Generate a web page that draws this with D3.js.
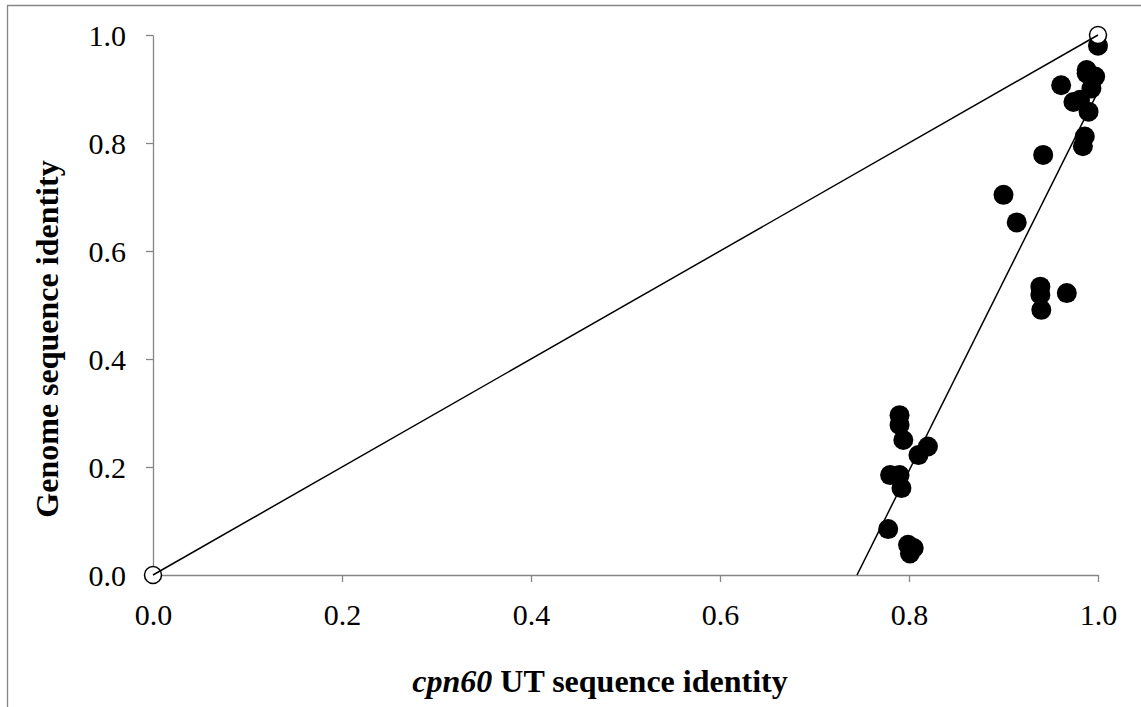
<!DOCTYPE html>
<html>
<head>
<meta charset="utf-8">
<script src="https://cdn.jsdelivr.net/npm/d3@7"></script>
<style>
  html, body { margin: 0; padding: 0; background: #fff; }
  svg { display: block; }
  text { font-family: "Liberation Serif", "Times New Roman", serif; }
</style>
</head>
<body>
<svg id="chart" width="1141" height="707"></svg>
<script>
// ---- data ----
const cpnIdentity = [1.000, 0.988, 0.988, 0.997, 0.993, 0.961, 0.974, 0.981, 0.990, 0.986, 0.984,
  0.942, 0.900, 0.914, 0.939, 0.939, 0.940, 0.967,
  0.790, 0.790, 0.794, 0.820, 0.810, 0.780, 0.790, 0.792, 0.778, 0.799, 0.801, 0.805];
const genomeIdentity = [0.980, 0.935, 0.929, 0.923, 0.901, 0.907, 0.876, 0.880, 0.858, 0.812, 0.794,
  0.778, 0.704, 0.653, 0.534, 0.519, 0.491, 0.522,
  0.296, 0.278, 0.250, 0.238, 0.222, 0.185, 0.185, 0.161, 0.085, 0.056, 0.040, 0.050];
const identityX = [0, 1];
const identityY = [0, 1];
const trendX = [0.745, 1.0];
const trendY = [0.0, 0.895];
const xTicks = [0, 0.2, 0.4, 0.6, 0.8, 1.0];
const yTicks = [0, 0.2, 0.4, 0.6, 0.8, 1.0];

const svg = d3.select("#chart");
const axisColor = "#868686";

// chart-area border (left and top edges visible)
svg.append("path")
  .attr("d", "M7.5,707 L7.5,5.5 L1141,5.5")
  .attr("fill", "none").attr("stroke", axisColor).attr("stroke-width", 1.3);

const x = d3.scaleLinear().domain([0, 1]).range([153, 1098]);
const y = d3.scaleLinear().domain([0, 1]).range([575, 35]);

// axes
const xAxis = svg.append("g").attr("transform", "translate(0,575)")
  .call(d3.axisBottom(x).tickValues(xTicks).tickFormat(d3.format(".1f")).tickSize(7).tickSizeOuter(0));
xAxis.selectAll("text").attr("y", 50).attr("dy", 0)
  .attr("font-size", 30).attr("fill", "#000").style("font-family", "'Liberation Serif', serif");

const yAxis = svg.append("g").attr("transform", "translate(153,0)")
  .call(d3.axisLeft(y).tickValues(yTicks).tickFormat(d3.format(".1f")).tickSize(7).tickSizeOuter(0));
yAxis.selectAll("text").attr("x", -27).attr("dy", "0.34em")
  .attr("font-size", 30).attr("fill", "#000").style("font-family", "'Liberation Serif', serif");

[xAxis, yAxis].forEach(g => {
  g.select(".domain").attr("stroke", axisColor).attr("stroke-width", 1.3);
  g.selectAll(".tick line").attr("stroke", axisColor).attr("stroke-width", 1.3);
});

const line = d3.line().x(d => x(d[0])).y(d => y(d[1]));

// trend line
svg.append("path")
  .datum(d3.zip(trendX, trendY))
  .attr("d", line)
  .attr("fill", "none").attr("stroke", "#000").attr("stroke-width", 1.5);

// filled points
svg.append("g").selectAll("circle")
  .data(d3.zip(cpnIdentity, genomeIdentity))
  .join("circle")
  .attr("cx", d => x(d[0])).attr("cy", d => y(d[1]))
  .attr("r", 10).attr("fill", "#000");

// open markers of identity line
svg.append("g").selectAll("circle")
  .data(d3.zip(identityX, identityY))
  .join("circle")
  .attr("cx", d => x(d[0])).attr("cy", d => y(d[1]))
  .attr("r", 8.5).attr("fill", "#fff").attr("stroke", "#000").attr("stroke-width", 1.5);

// identity line
svg.append("path")
  .datum(d3.zip(identityX, identityY))
  .attr("d", line)
  .attr("fill", "none").attr("stroke", "#000").attr("stroke-width", 1.5);

// axis titles
const xt = svg.append("text")
  .attr("x", 600).attr("y", 692)
  .attr("text-anchor", "middle")
  .attr("font-size", 32).attr("font-weight", "bold").attr("fill", "#000");
xt.append("tspan").attr("font-style", "italic").text("cpn60");
xt.append("tspan").text(" UT sequence identity");

svg.append("text")
  .attr("transform", "translate(58,339) rotate(-90)")
  .attr("text-anchor", "middle")
  .attr("font-size", 32).attr("font-weight", "bold").attr("fill", "#000")
  .text("Genome sequence identity");
</script>
</body>
</html>
